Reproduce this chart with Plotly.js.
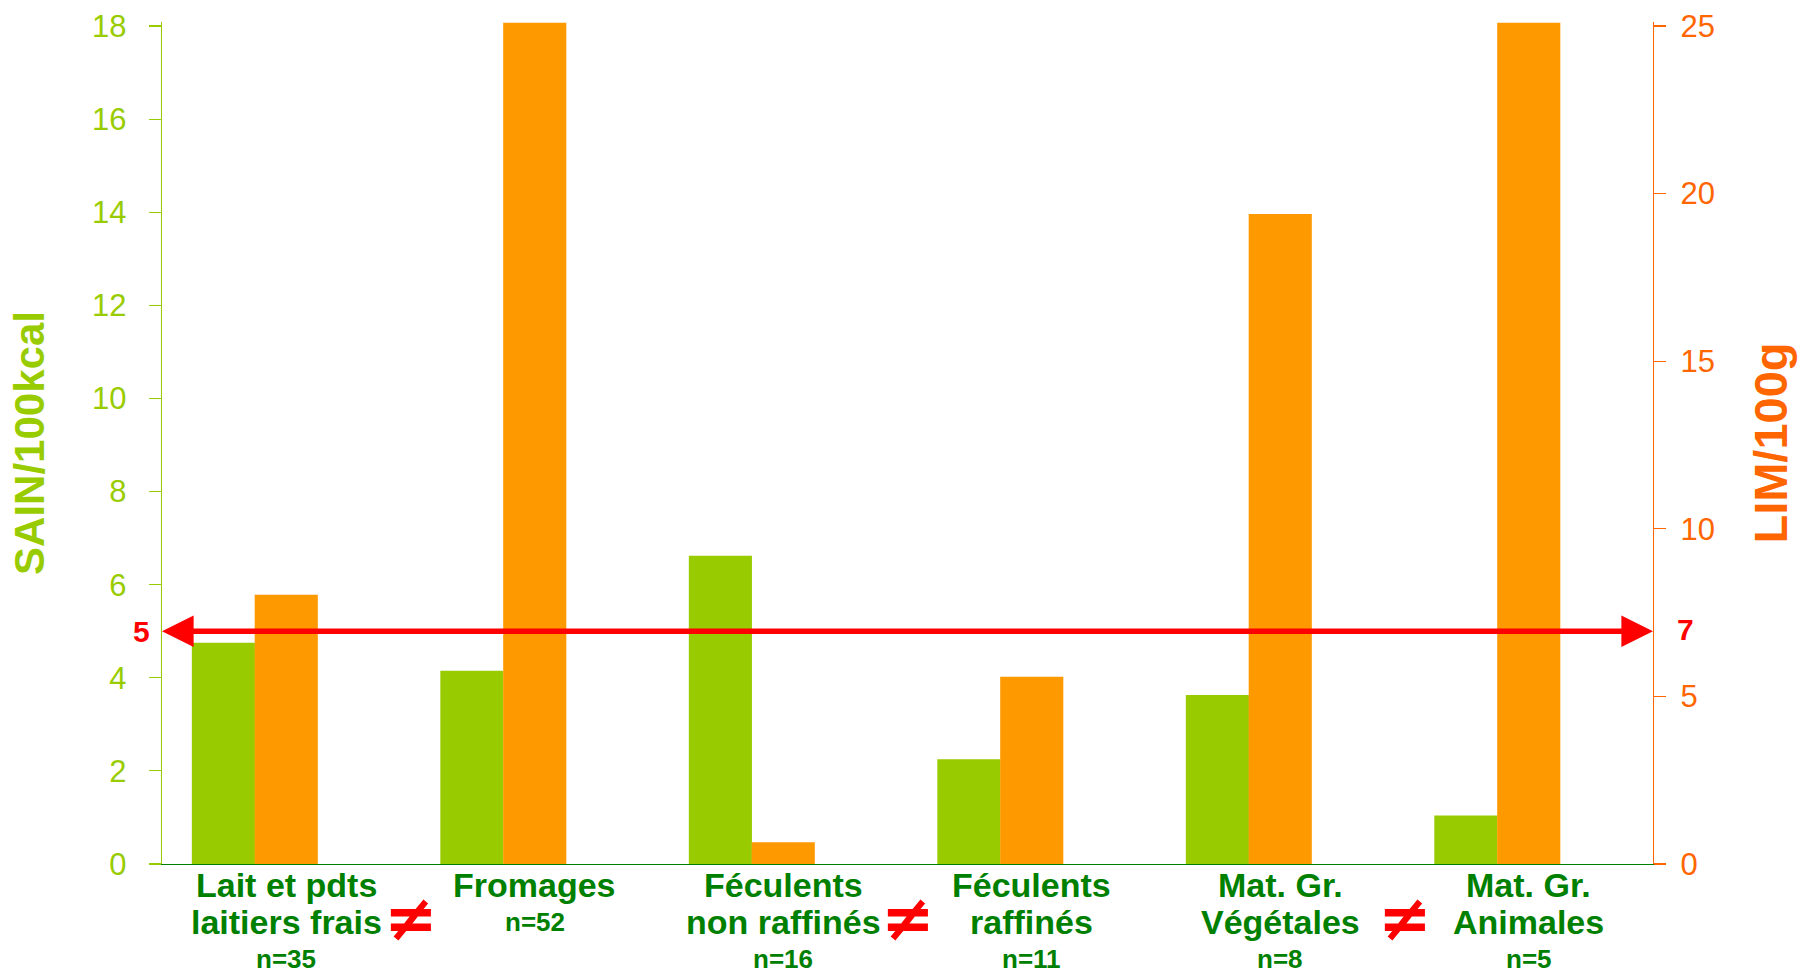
<!DOCTYPE html>
<html>
<head>
<meta charset="utf-8">
<script src="https://cdn.plot.ly/plotly-3.0.1.min.js"></script>
<style>
  html, body { margin: 0; padding: 0; background: #ffffff; }
  #chart { width: 1804px; height: 973px; }
</style>
</head>
<body>
<div id="chart"></div>
<script>
// Food groups, split over the lines of their labels
const categories = [
  "Lait et pdts laitiers frais", "Fromages", "Féculents non raffinés",
  "Féculents raffinés", "Mat. Gr. Végétales", "Mat. Gr. Animales"
];
const labelLines = [
  ["Lait et pdts", "laitiers frais"],
  ["Fromages"],
  ["Féculents", "non raffinés"],
  ["Féculents", "raffinés"],
  ["Mat. Gr.", "Végétales"],
  ["Mat. Gr.", "Animales"]
];
const counts = [35, 52, 16, 11, 8, 5];

// Mean scores per group
const sainValues = [4.75, 4.15, 6.62, 2.25, 3.63, 1.04];   // SAIN / 100 kcal
const limValues  = [8.03, 25.1, 0.65, 5.59, 19.39, 25.1];  // LIM / 100 g

// Axis ticks
const sainTicks = [0, 2, 4, 6, 8, 10, 12, 14, 16, 18];
const limTicks  = [0, 5, 10, 15, 20, 25];

// Reference thresholds
const sainThreshold = 5;
const limThreshold = 7;

// Pairs of groups that differ significantly
const differentPairs = [[0, 1], [2, 3], [4, 5]];

const FONT = "Liberation Sans, Arial, sans-serif";
const GREEN = "#99CC00";
const ORANGE_BAR = "#FF9900";
const ORANGE_AXIS = "#FF6600";
const DARK_GREEN = "#008000";
const RED = "#FF0000";

const sainTop = 18.086;
const limTop = 25.12;
const xIdx = categories.map((_, i) => i);
const xMin = -0.5, xMax = categories.length - 0.5;

const traces = [
  {
    type: "bar", name: "SAIN", x: xIdx, y: sainValues, yaxis: "y",
    width: 0.254, offset: -0.38,
    marker: { color: GREEN, line: { width: 0 } },
    hoverinfo: "y"
  },
  {
    type: "bar", name: "LIM", x: xIdx, y: limValues, yaxis: "y2",
    width: 0.254, offset: -0.127,
    marker: { color: ORANGE_BAR, line: { width: 0 } },
    hoverinfo: "y"
  }
];

// Threshold line across the plot (ends tucked under the arrow heads)
const shapes = [{
  type: "line", xref: "x", yref: "y",
  x0: xMin + 0.08, x1: xMax - 0.08, y0: sainThreshold, y1: sainThreshold,
  line: { color: RED, width: 5.5 }
}];

const annotations = [];

// Arrow heads at both ends of the threshold line
[[xMin, xMin + 0.12], [xMax, xMax - 0.12]].forEach(([tip, tail]) => {
  annotations.push({
    xref: "x", yref: "y", x: tip, y: sainThreshold,
    axref: "x", ayref: "y", ax: tail, ay: sainThreshold,
    text: "", showarrow: true, arrowhead: 2, arrowsize: 1.15,
    arrowwidth: 5.5, arrowcolor: RED
  });
});

// Threshold values at each end
annotations.push({
  xref: "paper", yref: "y", x: 0, y: sainThreshold, xanchor: "right", yanchor: "middle",
  xshift: -10, text: String(sainThreshold), showarrow: false,
  font: { family: FONT, size: 30, color: RED, weight: 700 }
});
annotations.push({
  xref: "paper", yref: "y2", x: 1, y: limThreshold, xanchor: "left", yanchor: "middle",
  xshift: 22, text: String(limThreshold), showarrow: false,
  font: { family: FONT, size: 30, color: RED, weight: 700 }
});

// Category labels with group sizes
labelLines.forEach((lines, i) => {
  const all = lines.concat(["n=" + counts[i]]);
  all.forEach((line, j) => {
    const isCount = j === all.length - 1;
    annotations.push({
      xref: "x", yref: "paper", x: i, y: 0, xanchor: "center", yanchor: "middle",
      yshift: -(21 + 37 * j), text: line, showarrow: false, borderpad: 0,
      font: { family: FONT, size: isCount ? 26 : 34, color: DARK_GREEN, weight: 700 }
    });
  });
});

// "Not equal" marks between groups that differ
differentPairs.forEach(([a, b]) => {
  annotations.push({
    xref: "x", yref: "paper", x: (a + b) / 2, y: 0, xanchor: "center", yanchor: "middle",
    yshift: -54, text: "≠", showarrow: false,
    font: { family: "DejaVu Sans, sans-serif", size: 64, color: RED, weight: 700 }
  });
});

const layout = {
  width: 1804, height: 973,
  margin: { l: 162, r: 151, t: 22, b: 109, pad: 0 },
  paper_bgcolor: "#ffffff", plot_bgcolor: "#ffffff",
  showlegend: false,
  barmode: "overlay",
  font: { family: FONT },
  xaxis: {
    type: "linear", range: [xMin, xMax],
    showgrid: false, zeroline: false, showticklabels: false, ticks: "",
    showline: true, linecolor: DARK_GREEN, linewidth: 1.2, fixedrange: true
  },
  yaxis: {
    range: [0, sainTop], tickvals: sainTicks, ticktext: sainTicks.map(String),
    showgrid: false, zeroline: false,
    showline: true, linecolor: GREEN, linewidth: 1.2,
    ticks: "outside", ticklen: 12, tickwidth: 1.2, tickcolor: GREEN,
    ticklabelstandoff: 16,
    tickfont: { family: FONT, size: 31, color: GREEN },
    title: { text: "SAIN/100kcal", standoff: 34,
             font: { family: FONT, size: 42, color: GREEN, weight: 700 } },
    fixedrange: true
  },
  yaxis2: {
    overlaying: "y", side: "right", anchor: "x",
    range: [0, limTop], tickvals: limTicks, ticktext: limTicks.map(String),
    showgrid: false, zeroline: false,
    showline: true, linecolor: ORANGE_AXIS, linewidth: 1.2,
    ticks: "outside", ticklen: 12, tickwidth: 1.2, tickcolor: ORANGE_AXIS,
    ticklabelstandoff: 8,
    tickfont: { family: FONT, size: 31, color: ORANGE_AXIS },
    title: { text: "LIM/100g", standoff: 40,
             font: { family: FONT, size: 47, color: ORANGE_AXIS, weight: 700 } },
    fixedrange: true
  },
  // inner half of the crossing ticks on the right axis
  yaxis3: {
    overlaying: "y", side: "right", anchor: "x",
    range: [0, limTop], tickvals: limTicks,
    showgrid: false, zeroline: false, showline: false, showticklabels: false,
    ticks: "inside", ticklen: 12, tickwidth: 1.2, tickcolor: ORANGE_AXIS,
    fixedrange: true
  },
  shapes: shapes,
  annotations: annotations
};

Plotly.newPlot("chart", traces, layout, { displayModeBar: false, staticPlot: true });
</script>
</body>
</html>
